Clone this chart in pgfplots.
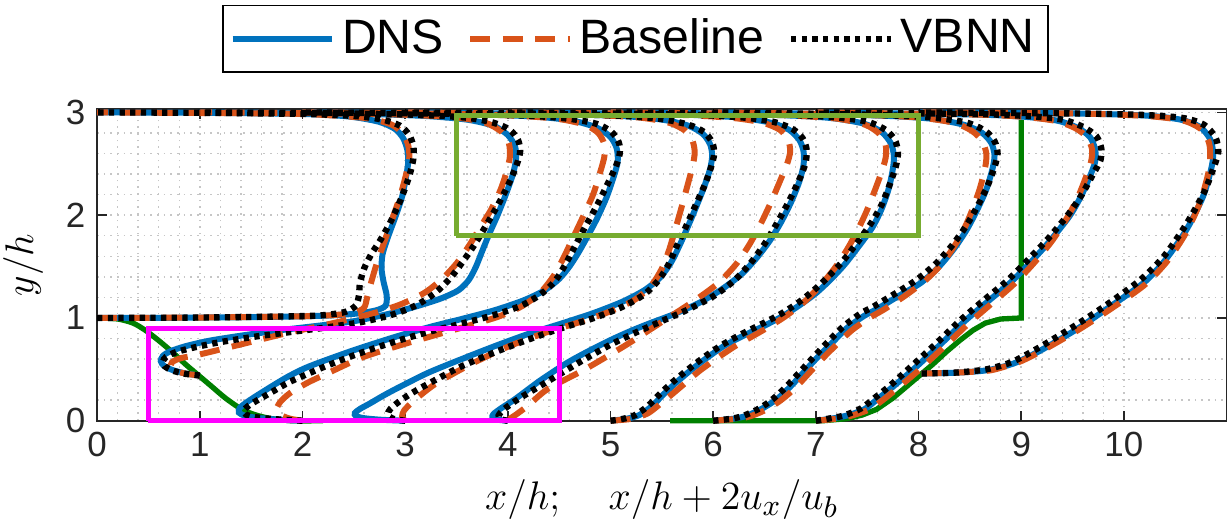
\documentclass[border=0pt]{standalone}
\usepackage{fontspec}
\setmainfont{Liberation Sans}
\usepackage{pgfplots}
\pgfplotsset{compat=1.18}
\definecolor{dnsblue}{RGB}{0,114,189}
\definecolor{baseorange}{RGB}{217,83,25}
\definecolor{hillgreen}{RGB}{0,128,0}
\definecolor{boxgreen}{RGB}{119,172,48}
\definecolor{boxmagenta}{RGB}{255,0,255}
\definecolor{axgray}{RGB}{38,38,38}
\tikzset{
 dns/.style={color=dnsblue, line width=1.8pt, smooth, tension=0.45},
 base/.style={color=baseorange, line width=1.8pt, dash pattern=on 6pt off 3.8pt, smooth, tension=0.45},
 vbnn/.style={color=black, line width=1.9pt, dash pattern=on 1.6pt off 1.6pt, smooth, tension=0.45},
}
\begin{document}
\begin{tikzpicture}
\begin{axis}[
 at={(0,0)}, anchor=south west,
 x=30.87pt, y=30.9pt,
 xmin=0, xmax=11, ymin=0, ymax=3.03,
 clip=false,
 axis line style={axgray, line width=0.5pt},
 tick style={axgray, line width=0.5pt},
 major tick length=3pt,
 minor tick num=4, minor tick length=0pt,
 tick align=inside,
 xtick={0,...,10}, ytick={0,1,2,3},
 grid=both,
 major grid style={gray!45, line width=0.45pt, dash pattern=on 0.5pt off 1.5pt},
 minor grid style={gray!45, line width=0.45pt, dash pattern=on 0.5pt off 1.5pt},
 ticklabel style={font=\fontsize{10.5}{12}\selectfont, text=axgray},
 /pgf/number format/assume math mode=true,
 xlabel={$x/h;\quad x/h+2u_x/u_b$},
 ylabel={$y/h$},
 label style={font=\fontsize{12.5}{14}\selectfont},
 legend style={at={(0.4767,1.1175)}, anchor=south, draw=black, fill=white,
   inner xsep=2pt, inner ysep=2pt, font=\fontsize{14.5}{17}\selectfont,
   /tikz/every even column/.append style={column sep=5pt}},
 legend columns=3,
 legend image code/.code={\draw[#1] (0pt,0pt) -- (30pt,0pt);},
]
% hill geometry
\addplot[hillgreen, line width=1.6pt, smooth, tension=0.45, forget plot] coordinates {(0,1.0) (0.2,0.99) (0.35,0.95) (0.47,0.88) (0.6,0.78) (0.73,0.67) (0.86,0.55) (0.99,0.44) (1.12,0.33) (1.25,0.22) (1.41,0.11) (1.55,0.055) (1.7,0.02) (1.93,0.0) (2.2,0.0)};
\addplot[hillgreen, line width=1.6pt, forget plot] coordinates {(5.58,0) (7.07,0) (7.3,0.02) (7.45,0.055) (7.59,0.11) (7.75,0.22) (7.88,0.33) (8.01,0.44) (8.14,0.55) (8.27,0.67) (8.4,0.78) (8.53,0.88) (8.65,0.95) (8.8,0.99) (9,1.0) (9,2.93)};
% DNS
\addplot[dns] coordinates {(0,1.0) (0.5,1.0) (1.0,1.004) (1.5,1.008) (2.0,1.016) (2.3,1.026) (2.55,1.045) (2.72,1.075) (2.81,1.12) (2.82,1.22) (2.79,1.35) (2.77,1.48) (2.78,1.62) (2.83,1.78) (2.9,1.97) (2.97,2.18) (3.01,2.38) (3.03,2.52) (3.02,2.64) (2.98,2.75) (2.9,2.84) (2.74,2.91) (2.45,2.96) (2.0,2.985) (1.0,2.996) (0,3)};
\addplot[dns, forget plot] coordinates {(1.0,0.44) (0.85,0.462) (0.73,0.495) (0.65,0.535) (0.62,0.58) (0.64,0.63) (0.71,0.675) (0.86,0.725) (1.1,0.78) (1.45,0.835) (1.86,0.89) (2.2,0.93) (2.51,0.97) (2.84,1.04) (3.1,1.11) (3.35,1.19) (3.52,1.27) (3.62,1.37) (3.69,1.5) (3.75,1.65) (3.82,1.82) (3.9,2.0) (3.98,2.2) (4.05,2.4) (4.08,2.55) (4.07,2.67) (4.0,2.78) (3.86,2.87) (3.6,2.93) (3.2,2.965) (2.6,2.985) (1.8,2.995) (1.0,3.0)};
\addplot[dns, forget plot] coordinates {(2.0,0.0) (1.75,0.012) (1.56,0.028) (1.44,0.048) (1.38,0.08) (1.39,0.125) (1.45,0.175) (1.54,0.235) (1.7,0.335) (1.86,0.43) (2.02,0.51) (2.2,0.58) (2.51,0.69) (2.9,0.815) (3.25,0.915) (3.55,0.99) (3.87,1.075) (4.15,1.17) (4.36,1.27) (4.5,1.38) (4.6,1.5) (4.69,1.64) (4.78,1.8) (4.87,1.97) (4.96,2.17) (5.03,2.37) (5.07,2.52) (5.06,2.65) (5.0,2.76) (4.87,2.85) (4.63,2.92) (4.25,2.96) (3.6,2.985) (2.8,2.995) (2,3)};
\addplot[dns, forget plot] coordinates {(3.0,0.0) (2.76,0.01) (2.6,0.025) (2.52,0.045) (2.51,0.075) (2.56,0.115) (2.66,0.17) (2.78,0.24) (2.92,0.315) (3.22,0.465) (3.55,0.6) (3.87,0.725) (4.2,0.845) (4.52,0.945) (4.84,1.05) (5.12,1.16) (5.33,1.27) (5.48,1.39) (5.59,1.54) (5.67,1.7) (5.75,1.88) (5.83,2.07) (5.91,2.27) (5.97,2.45) (5.99,2.58) (5.97,2.69) (5.9,2.79) (5.76,2.87) (5.5,2.93) (5.1,2.965) (4.4,2.985) (3,3)};
\addplot[dns, forget plot] coordinates {(4.0,0.0) (3.9,0.01) (3.85,0.03) (3.86,0.065) (3.94,0.125) (4.07,0.21) (4.32,0.395) (4.58,0.565) (4.8,0.685) (5.0,0.785) (5.2,0.875) (5.4,0.955) (5.6,1.03) (5.85,1.14) (6.07,1.27) (6.27,1.42) (6.42,1.58) (6.55,1.75) (6.66,1.93) (6.76,2.13) (6.84,2.33) (6.88,2.49) (6.88,2.62) (6.84,2.73) (6.74,2.83) (6.56,2.9) (6.25,2.95) (5.8,2.975) (5.0,2.99) (4,3)};
\addplot[dns, forget plot] coordinates {(5.0,0.0) (5.15,0.018) (5.28,0.055) (5.4,0.14) (5.52,0.26) (5.65,0.38) (5.78,0.49) (5.95,0.62) (6.11,0.73) (6.3,0.83) (6.5,0.925) (6.68,1.02) (6.85,1.13) (7.0,1.24) (7.14,1.37) (7.28,1.52) (7.42,1.7) (7.55,1.88) (7.64,2.06) (7.71,2.26) (7.75,2.45) (7.76,2.58) (7.73,2.7) (7.64,2.81) (7.47,2.89) (7.15,2.945) (6.7,2.972) (6.0,2.99) (5,3)};
\addplot[dns, forget plot] coordinates {(6.0,0.0) (6.2,0.02) (6.33,0.05) (6.48,0.12) (6.62,0.21) (6.75,0.33) (6.88,0.47) (7.0,0.6) (7.14,0.74) (7.3,0.9) (7.47,1.02) (7.6,1.09) (7.8,1.21) (8.02,1.34) (8.2,1.5) (8.35,1.68) (8.47,1.86) (8.57,2.05) (8.66,2.25) (8.72,2.45) (8.74,2.58) (8.71,2.7) (8.62,2.8) (8.44,2.88) (8.11,2.94) (7.6,2.97) (6.8,2.99) (6,3)};
\addplot[dns, forget plot] coordinates {(7.0,0.0) (7.15,0.02) (7.3,0.05) (7.47,0.11) (7.6,0.21) (7.75,0.33) (7.95,0.5) (8.2,0.73) (8.44,0.96) (8.65,1.14) (8.89,1.34) (9.09,1.54) (9.28,1.75) (9.47,1.99) (9.58,2.18) (9.67,2.38) (9.72,2.52) (9.72,2.64) (9.67,2.76) (9.55,2.85) (9.35,2.92) (9.0,2.96) (8.5,2.98) (7,3)};
\addplot[dns, forget plot] coordinates {(8.03,0.46) (8.3,0.465) (8.5,0.475) (8.66,0.49) (8.8,0.52) (8.96,0.57) (9.2,0.69) (9.54,0.89) (9.85,1.1) (10.19,1.34) (10.4,1.56) (10.61,1.86) (10.77,2.18) (10.85,2.45) (10.87,2.6) (10.84,2.74) (10.74,2.86) (10.55,2.93) (10.2,2.97) (9.5,2.99) (8,3)};
% Baseline
\addplot[base] coordinates {(0,1.0) (1.0,1.004) (2.0,1.016) (2.3,1.028) (2.5,1.05) (2.6,1.1) (2.63,1.2) (2.67,1.35) (2.72,1.52) (2.79,1.72) (2.87,1.95) (2.95,2.18) (3.01,2.4) (3.04,2.56) (3.03,2.68) (2.98,2.79) (2.87,2.88) (2.65,2.94) (2.3,2.97) (1.8,2.988) (0,3)};
\addplot[base, forget plot] coordinates {(1.0,0.44) (0.88,0.455) (0.78,0.48) (0.72,0.52) (0.73,0.57) (0.82,0.61) (1.02,0.65) (1.47,0.76) (1.86,0.855) (2.3,0.95) (2.67,1.04) (2.95,1.13) (3.18,1.24) (3.35,1.37) (3.5,1.53) (3.62,1.7) (3.73,1.88) (3.84,2.06) (3.93,2.25) (3.99,2.43) (4.02,2.57) (4.01,2.7) (3.94,2.81) (3.78,2.9) (3.5,2.95) (3.0,2.977) (2.3,2.99) (1,3)};
\addplot[base, forget plot] coordinates {(2.0,0.0) (1.88,0.02) (1.78,0.06) (1.75,0.12) (1.79,0.19) (1.88,0.27) (2.05,0.37) (2.22,0.45) (2.58,0.615) (2.97,0.74) (3.3,0.835) (3.6,0.92) (3.9,1.01) (4.13,1.11) (4.31,1.24) (4.44,1.4) (4.54,1.58) (4.63,1.77) (4.73,1.98) (4.83,2.2) (4.9,2.42) (4.94,2.57) (4.94,2.69) (4.88,2.8) (4.75,2.88) (4.5,2.935) (4.1,2.967) (3.4,2.987) (2,3)};
\addplot[base, forget plot] coordinates {(3.0,0.0) (2.97,0.04) (2.99,0.1) (3.08,0.19) (3.29,0.355) (3.64,0.55) (4.0,0.72) (4.36,0.855) (4.7,0.96) (5.0,1.065) (5.24,1.18) (5.4,1.32) (5.5,1.48) (5.57,1.66) (5.63,1.86) (5.69,2.07) (5.75,2.29) (5.8,2.48) (5.82,2.61) (5.8,2.72) (5.73,2.82) (5.57,2.9) (5.28,2.95) (4.8,2.975) (4.0,2.99) (3,3)};
\addplot[base, forget plot] coordinates {(4.0,0.0) (4.02,0.02) (4.08,0.06) (4.2,0.15) (4.39,0.31) (4.75,0.5) (5.14,0.73) (5.49,0.955) (5.82,1.17) (6.05,1.34) (6.22,1.52) (6.35,1.71) (6.46,1.91) (6.56,2.12) (6.65,2.33) (6.72,2.5) (6.75,2.62) (6.73,2.73) (6.65,2.83) (6.48,2.9) (6.2,2.945) (5.7,2.975) (5.0,2.99) (4,3)};
\addplot[base, forget plot] coordinates {(5.0,0.0) (5.2,0.018) (5.36,0.07) (5.48,0.16) (5.59,0.25) (5.72,0.36) (5.86,0.48) (6.04,0.61) (6.22,0.73) (6.45,0.86) (6.68,1.0) (6.88,1.15) (7.04,1.31) (7.18,1.48) (7.3,1.66) (7.4,1.84) (7.49,2.03) (7.57,2.23) (7.64,2.42) (7.68,2.56) (7.68,2.68) (7.62,2.79) (7.48,2.88) (7.2,2.94) (6.75,2.97) (6.0,2.99) (5,3)};
\addplot[base, forget plot] coordinates {(6.0,0.0) (6.25,0.02) (6.38,0.05) (6.52,0.11) (6.66,0.2) (6.8,0.32) (6.93,0.46) (7.05,0.59) (7.19,0.73) (7.35,0.88) (7.52,1.0) (7.66,1.08) (7.86,1.21) (8.06,1.36) (8.22,1.52) (8.35,1.7) (8.45,1.88) (8.53,2.07) (8.6,2.27) (8.65,2.47) (8.66,2.6) (8.62,2.72) (8.52,2.82) (8.34,2.9) (8.0,2.95) (7.5,2.975) (6.8,2.99) (6,3)};
\addplot[base, forget plot] coordinates {(7.0,0.0) (7.2,0.02) (7.35,0.05) (7.52,0.11) (7.65,0.2) (7.8,0.32) (8.0,0.49) (8.25,0.72) (8.48,0.94) (8.7,1.13) (8.93,1.33) (9.12,1.53) (9.3,1.75) (9.45,1.98) (9.55,2.17) (9.63,2.37) (9.68,2.52) (9.69,2.64) (9.64,2.76) (9.52,2.85) (9.32,2.92) (8.98,2.96) (8.5,2.98) (7,3)};
\addplot[base, forget plot] coordinates {(8.03,0.46) (8.3,0.465) (8.5,0.475) (8.7,0.49) (8.85,0.53) (9.0,0.58) (9.22,0.69) (9.55,0.88) (9.86,1.08) (10.2,1.32) (10.42,1.55) (10.6,1.82) (10.74,2.12) (10.82,2.4) (10.84,2.56) (10.83,2.7) (10.76,2.83) (10.58,2.92) (10.22,2.965) (9.5,2.99) (8,3)};
% VBNN
\addplot[vbnn] coordinates {(0,1.0) (1.0,1.004) (2.0,1.018) (2.25,1.032) (2.42,1.06) (2.52,1.12) (2.55,1.22) (2.56,1.34) (2.6,1.48) (2.67,1.62) (2.76,1.76) (2.86,1.94) (2.96,2.16) (3.04,2.38) (3.08,2.55) (3.08,2.67) (3.04,2.78) (2.95,2.87) (2.78,2.93) (2.5,2.965) (2.0,2.985) (1.0,2.996) (0,3)};
\addplot[vbnn, forget plot] coordinates {(1.0,0.44) (0.85,0.458) (0.73,0.49) (0.66,0.53) (0.64,0.575) (0.67,0.62) (0.76,0.665) (0.93,0.71) (1.2,0.765) (1.55,0.82) (1.9,0.865) (2.25,0.91) (2.6,0.965) (2.9,1.04) (3.12,1.13) (3.3,1.25) (3.45,1.4) (3.57,1.56) (3.68,1.72) (3.8,1.92) (3.92,2.13) (4.02,2.33) (4.09,2.5) (4.12,2.62) (4.1,2.73) (4.02,2.83) (3.86,2.9) (3.58,2.95) (3.1,2.977) (2.4,2.99) (1,3)};
\addplot[vbnn, forget plot] coordinates {(2.0,0.0) (1.72,0.016) (1.54,0.035) (1.45,0.06) (1.43,0.1) (1.48,0.15) (1.58,0.21) (1.72,0.29) (1.88,0.38) (2.2,0.52) (2.51,0.64) (2.9,0.77) (3.25,0.87) (3.55,0.945) (3.87,1.03) (4.13,1.12) (4.32,1.23) (4.46,1.36) (4.56,1.52) (4.65,1.69) (4.75,1.88) (4.86,2.08) (4.97,2.3) (5.05,2.47) (5.09,2.6) (5.08,2.71) (5.01,2.81) (4.86,2.89) (4.58,2.94) (4.15,2.97) (3.5,2.987) (2,3)};
\addplot[vbnn, forget plot] coordinates {(3.0,0.0) (2.88,0.02) (2.83,0.06) (2.86,0.12) (2.96,0.2) (3.1,0.29) (3.3,0.4) (3.55,0.53) (3.87,0.665) (4.2,0.79) (4.52,0.9) (4.84,1.0) (5.12,1.11) (5.33,1.23) (5.47,1.37) (5.57,1.53) (5.65,1.71) (5.74,1.9) (5.83,2.1) (5.92,2.3) (5.98,2.47) (6.01,2.6) (5.99,2.71) (5.91,2.81) (5.76,2.88) (5.5,2.935) (5.1,2.967) (4.4,2.986) (3,3)};
\addplot[vbnn, forget plot] coordinates {(4.0,0.0) (3.93,0.015) (3.91,0.05) (3.96,0.11) (4.1,0.21) (4.3,0.33) (4.5,0.45) (4.75,0.6) (5.0,0.74) (5.25,0.86) (5.5,0.97) (5.75,1.08) (6.0,1.21) (6.2,1.36) (6.36,1.53) (6.5,1.72) (6.62,1.92) (6.74,2.14) (6.84,2.35) (6.9,2.51) (6.91,2.64) (6.87,2.75) (6.77,2.84) (6.58,2.91) (6.27,2.952) (5.8,2.977) (5.0,2.99) (4,3)};
\addplot[vbnn, forget plot] coordinates {(5.0,0.0) (5.12,0.018) (5.24,0.055) (5.36,0.14) (5.48,0.26) (5.61,0.38) (5.75,0.495) (5.92,0.625) (6.09,0.74) (6.28,0.845) (6.47,0.94) (6.66,1.04) (6.83,1.15) (6.98,1.27) (7.12,1.4) (7.26,1.55) (7.4,1.73) (7.53,1.91) (7.64,2.1) (7.72,2.3) (7.78,2.48) (7.8,2.61) (7.77,2.73) (7.68,2.83) (7.5,2.91) (7.18,2.953) (6.7,2.977) (6.0,2.99) (5,3)};
\addplot[vbnn, forget plot] coordinates {(6.0,0.0) (6.18,0.02) (6.3,0.05) (6.45,0.12) (6.58,0.21) (6.71,0.33) (6.84,0.47) (6.96,0.6) (7.1,0.75) (7.26,0.91) (7.43,1.04) (7.56,1.11) (7.76,1.23) (7.98,1.37) (8.17,1.53) (8.33,1.71) (8.46,1.89) (8.57,2.08) (8.67,2.28) (8.74,2.47) (8.77,2.6) (8.74,2.72) (8.65,2.82) (8.47,2.9) (8.13,2.95) (7.6,2.975) (6.8,2.99) (6,3)};
\addplot[vbnn, forget plot] coordinates {(7.0,0.0) (7.12,0.02) (7.27,0.05) (7.44,0.12) (7.57,0.22) (7.72,0.34) (7.92,0.52) (8.17,0.75) (8.41,0.98) (8.62,1.16) (8.86,1.36) (9.06,1.56) (9.26,1.77) (9.46,2.01) (9.59,2.2) (9.7,2.4) (9.77,2.53) (9.78,2.65) (9.73,2.77) (9.6,2.86) (9.4,2.93) (9.05,2.965) (8.5,2.985) (7,3)};
\addplot[vbnn, forget plot] coordinates {(8.03,0.46) (8.3,0.465) (8.5,0.48) (8.66,0.5) (8.8,0.535) (8.94,0.585) (9.17,0.71) (9.5,0.91) (9.82,1.12) (10.16,1.37) (10.39,1.6) (10.6,1.9) (10.78,2.22) (10.88,2.48) (10.92,2.62) (10.89,2.76) (10.78,2.88) (10.58,2.945) (10.2,2.975) (9.5,2.99) (8,3)};
% boxes
\addplot[boxmagenta, line width=1.6pt, forget plot] coordinates {(0.5,0) (4.5,0) (4.5,0.9) (0.5,0.9) (0.5,0)};
\addplot[boxgreen, line width=1.6pt, forget plot] coordinates {(3.5,1.8) (8,1.8) (8,2.97) (3.5,2.97) (3.5,1.8)};
\legend{DNS,Baseline,VBNN}
\end{axis}
\pgfresetboundingbox
\path (-29.2pt,-33.4pt) rectangle (340pt,126.5pt);
\end{tikzpicture}
\end{document}
